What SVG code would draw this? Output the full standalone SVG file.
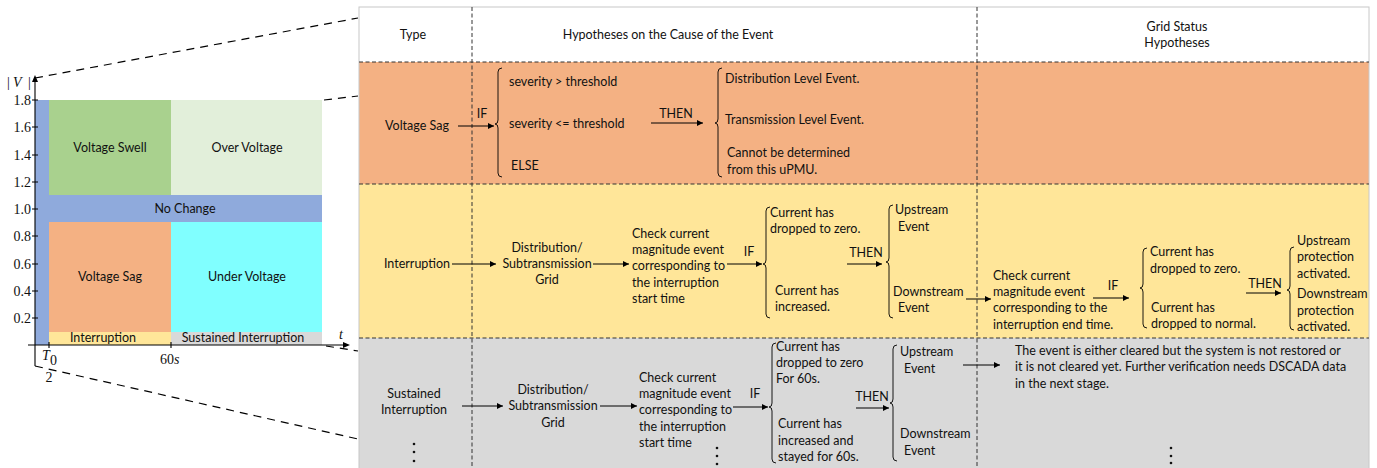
<svg xmlns="http://www.w3.org/2000/svg" width="1377" height="468" viewBox="0 0 1377 468">
<defs>
<marker id="ah" markerUnits="userSpaceOnUse" markerWidth="8" markerHeight="8" refX="6" refY="3" orient="auto">
<path d="M0,0 L6,3 L0,6 Z" fill="#000"/>
</marker>
<style>
.t{font-family:Lato,"Noto Sans",sans-serif;font-size:12.5px;fill:#111}
.m{text-anchor:middle}
.n{font-family:"Liberation Serif","DejaVu Serif",serif;font-size:14px;fill:#111}
.ni{font-family:"Liberation Serif","DejaVu Serif",serif;font-size:14px;font-style:italic;fill:#111}
.dash{stroke:#333;stroke-width:1;stroke-dasharray:4 2.5;fill:none}
.call{stroke:#000;stroke-width:1.2;stroke-dasharray:8 6;fill:none}
.ax{stroke:#000;stroke-width:1.1;fill:none}
.br{stroke:#000;stroke-width:0.9;fill:none}
.ar{stroke:#000;stroke-width:1;fill:none;marker-end:url(#ah)}
</style>
</defs>
<rect width="1377" height="468" fill="#fff"/>

<g id="chart">
<rect x="35" y="100" width="14" height="245" fill="#8faadc"/>
<rect x="49" y="100" width="122" height="95" fill="#a9d18e"/>
<rect x="171" y="100" width="151" height="95" fill="#e2efda"/>
<rect x="49" y="195" width="273" height="27" fill="#8faadc"/>
<rect x="49" y="222" width="122" height="110" fill="#f4b183"/>
<rect x="171" y="222" width="151" height="110" fill="#80ffff"/>
<rect x="49" y="332" width="122" height="13" fill="#ffe699"/>
<rect x="171" y="332" width="151" height="13" fill="#d9d9d9"/>
<text class="t m" x="110" y="152">Voltage Swell</text>
<text class="t m" x="247" y="152">Over Voltage</text>
<text class="t m" x="185" y="213">No Change</text>
<text class="t m" x="110" y="281">Voltage Sag</text>
<text class="t m" x="247" y="281">Under Voltage</text>
<text class="t m" x="103" y="342">Interruption</text>
<text class="t m" x="243" y="342">Sustained Interruption</text>
<path class="ax" d="M35,366 V80 M28,345 H347 M32,100 H38 M32,127 H38 M32,155 H38 M32,182 H38 M32,209 H38 M32,236 H38 M32,264 H38 M32,291 H38 M32,318 H38 M49,342 V348 M171,342 V348"/>
<path d="M35,75 L32,82 L38,82 Z M350,345 L343,342 L343,348 Z" fill="#000"/>
<g text-anchor="end">
<text class="n" x="31" y="105">1.8</text>
<text class="n" x="31" y="132">1.6</text>
<text class="n" x="31" y="160">1.4</text>
<text class="n" x="31" y="187">1.2</text>
<text class="n" x="31" y="214">1.0</text>
<text class="n" x="31" y="241">0.8</text>
<text class="n" x="31" y="269">0.6</text>
<text class="n" x="31" y="296">0.4</text>
<text class="n" x="31" y="323">0.2</text>
</g>
<text class="n" x="7" y="87">|</text><text class="ni" x="13" y="87">V</text><text class="n" x="28" y="87">|</text>
<text class="ni" x="339" y="339">t</text>
<text class="ni" x="42" y="360">T</text><text class="n" x="50" y="365" font-size="7">0</text>
<text class="n m" x="49" y="382">2</text>
<text class="n" x="160" y="364">60<tspan font-style="italic">s</tspan></text>
</g>

<g id="callouts">
<path class="call" d="M35,78 L358,18"/>
<path class="call" d="M324,100 L358,96"/>
<path class="call" d="M326,346 L358,351"/>
<path class="call" d="M35,366 L358,439"/>
</g>

<g id="table">
<rect x="359" y="7" width="1010" height="55" fill="#fff"/>
<rect x="359" y="62" width="1010" height="122" fill="#f4b183"/>
<rect x="359" y="184" width="1010" height="154" fill="#ffe699"/>
<rect x="359" y="338" width="1010" height="130" fill="#d9d9d9"/>
<rect x="359" y="7" width="1010" height="470" fill="none" stroke="#c8c8c8" stroke-width="1"/>
<path class="dash" d="M359,62 H1369 M359,184 H1369 M359,338 H1369 M472,7 V468 M977,7 V468"/>
</g>

<g id="header">
<text class="t m" x="413" y="39">Type</text>
<text class="t m" x="668" y="39">Hypotheses on the Cause of the Event</text>
<text class="t m" x="1177" y="31">Grid Status</text>
<text class="t m" x="1177" y="47">Hypotheses</text>
</g>

<g id="row-voltage-sag">
<text class="t m" x="417" y="130">Voltage Sag</text>
<text class="t m" x="482" y="118">IF</text>
<text class="t" x="509" y="86">severity &gt; threshold</text>
<text class="t" x="509" y="128">severity &lt;= threshold</text>
<text class="t" x="511" y="170">ELSE</text>
<text class="t m" x="676" y="118">THEN</text>
<text class="t" x="725" y="83">Distribution Level Event.</text>
<text class="t" x="725" y="124">Transmission Level Event.</text>
<text class="t" x="727" y="157">Cannot be determined</text>
<text class="t" x="727" y="174">from this uPMU.</text>
<path class="br" d="M502,68 Q498,68 498,72 V120 Q498,124 495,124 Q498,124 498,128 V173 Q498,177 502,177"/>
<path class="br" d="M722,68 Q718,68 718,72 V119 Q718,123 715,123 Q718,123 718,127 V173 Q718,177 722,177"/>
</g>

<g id="row-interruption">
<text class="t m" x="417" y="268">Interruption</text>
<text class="t m" x="547" y="252">Distribution/</text>
<text class="t m" x="547" y="268">Subtransmission</text>
<text class="t m" x="547" y="284">Grid</text>
<text class="t" x="632" y="238">Check current</text>
<text class="t" x="632" y="254">magnitude event</text>
<text class="t" x="632" y="270">corresponding to</text>
<text class="t" x="632" y="287">the interruption</text>
<text class="t" x="632" y="303">start time</text>
<text class="t m" x="749" y="256">IF</text>
<path class="br" d="M770,207 Q766,207 766,211 V260 Q766,264 763,264 Q766,264 766,268 V314 Q766,318 770,318"/>
<text class="t" x="770" y="217">Current has</text>
<text class="t" x="770" y="233">dropped to zero.</text>
<text class="t" x="775" y="295">Current has</text>
<text class="t" x="775" y="311">increased.</text>
<text class="t m" x="866" y="257">THEN</text>
<path class="br" d="M893,205 Q889,205 889,209 V258 Q889,262 886,262 Q889,262 889,266 V314 Q889,318 893,318"/>
<text class="t" x="895" y="214">Upstream</text>
<text class="t" x="898" y="231">Event</text>
<text class="t" x="893" y="296">Downstream</text>
<text class="t" x="898" y="312">Event</text>
<text class="t" x="993" y="280">Check current</text>
<text class="t" x="993" y="296">magnitude event</text>
<text class="t" x="993" y="312">corresponding to the</text>
<text class="t" x="993" y="329">interruption end time.</text>
<text class="t m" x="1113" y="290">IF</text>
<path class="br" d="M1147,248 Q1143,248 1143,252 V284 Q1143,288 1140,288 Q1143,288 1143,292 V324 Q1143,328 1147,328"/>
<text class="t" x="1150" y="256">Current has</text>
<text class="t" x="1150" y="273">dropped to zero.</text>
<text class="t" x="1151" y="312">Current has</text>
<text class="t" x="1151" y="328">dropped to normal.</text>
<text class="t m" x="1265" y="288">THEN</text>
<path class="br" d="M1294,247 Q1290,247 1290,251 V286 Q1290,290 1287,290 Q1290,290 1290,294 V326 Q1290,330 1294,330"/>
<text class="t" x="1297" y="245">Upstream</text>
<text class="t" x="1297" y="261">protection</text>
<text class="t" x="1297" y="278">activated.</text>
<text class="t" x="1297" y="298">Downstream</text>
<text class="t" x="1297" y="315">protection</text>
<text class="t" x="1297" y="331">activated.</text>
</g>

<g id="row-sustained">
<text class="t m" x="414" y="398">Sustained</text>
<text class="t m" x="414" y="414">Interruption</text>
<text class="t m" x="553" y="394">Distribution/</text>
<text class="t m" x="553" y="410">Subtransmission</text>
<text class="t m" x="553" y="427">Grid</text>
<text class="t" x="639" y="382">Check current</text>
<text class="t" x="639" y="398">magnitude event</text>
<text class="t" x="639" y="414">corresponding to</text>
<text class="t" x="639" y="431">the interruption</text>
<text class="t" x="639" y="447">start time</text>
<text class="t m" x="755" y="398">IF</text>
<path class="br" d="M776,343 Q772,343 772,347 V403 Q772,407 769,407 Q772,407 772,411 V459 Q772,463 776,463"/>
<text class="t" x="776" y="351">Current has</text>
<text class="t" x="776" y="367">dropped to zero</text>
<text class="t" x="776" y="383">For 60s.</text>
<text class="t" x="778" y="428">Current has</text>
<text class="t" x="778" y="445">increased and</text>
<text class="t" x="778" y="461">stayed for 60s.</text>
<text class="t m" x="872" y="401">THEN</text>
<path class="br" d="M897,345 Q893,345 893,349 V399 Q893,403 890,403 Q893,403 893,407 V457 Q893,461 897,461"/>
<text class="t" x="900" y="356">Upstream</text>
<text class="t" x="904" y="373">Event</text>
<text class="t" x="900" y="438">Downstream</text>
<text class="t" x="904" y="455">Event</text>
<text class="t" x="1015" y="355">The event is either cleared but the system is not restored or</text>
<text class="t" x="1015" y="371">it is not cleared yet. Further verification needs DSCADA data</text>
<text class="t" x="1015" y="388">in the next stage.</text>
<g fill="#111">
<circle cx="414" cy="444" r="1.3"/><circle cx="414" cy="452" r="1.3"/><circle cx="414" cy="461" r="1.3"/>
<circle cx="717" cy="448" r="1.3"/><circle cx="717" cy="456" r="1.3"/><circle cx="717" cy="464" r="1.3"/>
<circle cx="1171" cy="448" r="1.3"/><circle cx="1171" cy="456" r="1.3"/><circle cx="1171" cy="463" r="1.3"/>
</g>
</g>

<g id="connectors">
<path class="ar" d="M458,126 H494"/>
<path class="ar" d="M651,123 H703"/>
<path class="ar" d="M452,264 H496"/>
<path class="ar" d="M593,264 H629"/>
<path class="ar" d="M727,264 H762"/>
<path class="ar" d="M847,264 H882"/>
<path class="ar" d="M966,299 H991"/>
<path class="ar" d="M1093,298 H1129"/>
<path class="ar" d="M1246,293 H1281"/>
<path class="ar" d="M462,406 H503"/>
<path class="ar" d="M600,406 H637"/>
<path class="ar" d="M733,407 H768"/>
<path class="ar" d="M856,408 H889"/>
<path class="ar" d="M963,365 H1000"/>
</g>
</svg>
